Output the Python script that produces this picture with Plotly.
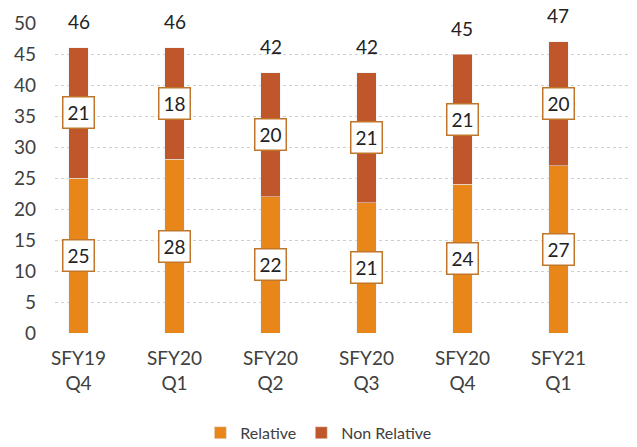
import plotly.graph_objects as go

categories = ["SFY19<br>Q4", "SFY20<br>Q1", "SFY20<br>Q2", "SFY20<br>Q3", "SFY20<br>Q4", "SFY21<br>Q1"]
relative = [25, 28, 22, 21, 24, 27]
non_relative = [21, 18, 20, 21, 21, 20]
totals = [r + n for r, n in zip(relative, non_relative)]

FONT = "Lato, Liberation Sans, sans-serif"
C_REL = "#E8861A"
C_NON = "#C0572B"
BOX = "#C0772C"

x = list(range(len(categories)))

fig = go.Figure()
fig.add_bar(x=x, y=relative, name="Relative", marker_color=C_REL, width=0.2)
fig.add_bar(x=x, y=non_relative, name="Non Relative", marker_color=C_NON, width=0.2)

annotations = []
for i in x:
    for ybase, v in ((0, relative[i]), (relative[i], non_relative[i])):
        annotations.append(dict(
            x=i, y=ybase + v / 2, text=str(v), showarrow=False,
            font=dict(family=FONT, size=19, color="#222222"),
            bgcolor="white", bordercolor=BOX, borderwidth=1.5,
            width=28, height=28, borderpad=1, xanchor="center", yanchor="middle"))
    annotations.append(dict(
        x=i, y=totals[i], text=str(totals[i]), showarrow=False,
        font=dict(family=FONT, size=19, color="#222222"),
        xanchor="center", yanchor="middle", yshift=26))

# page body has an 8px default margin, so the figure is offset by (8, 8)
fig.update_layout(
    barmode="stack",
    width=629, height=439,
    margin=dict(l=47, r=7, t=15, b=114, autoexpand=False),
    paper_bgcolor="white", plot_bgcolor="white",
    font=dict(family=FONT, size=19, color="#404040"),
    showlegend=True,
    legend=dict(orientation="h", x=0.458, xanchor="center", y=-0.322, yanchor="middle",
                font=dict(family=FONT, size=16, color="#404040"), itemwidth=30,
                traceorder="normal"),
    annotations=annotations,
)
fig.update_xaxes(
    tickmode="array", tickvals=x, ticktext=categories,
    range=[-0.245, 5.745], showgrid=False, zeroline=False, showline=False,
    ticks="", ticklabelstandoff=12,
)
fig.update_yaxes(
    range=[0, 50], dtick=5, showgrid=True, gridcolor="#CFCFCF", griddash="dot",
    gridwidth=1, zeroline=False, showline=False, ticks="", ticklabelstandoff=18,
)

fig.write_html("out.html")
